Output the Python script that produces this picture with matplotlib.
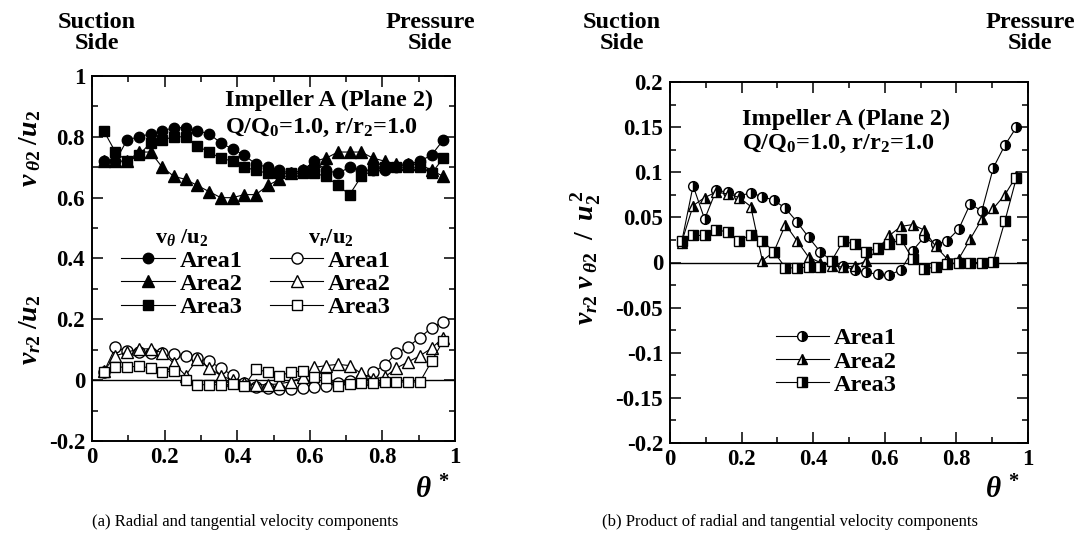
import matplotlib
matplotlib.use("Agg")
import matplotlib.pyplot as plt
from matplotlib.ticker import MultipleLocator, FuncFormatter
from matplotlib.lines import Line2D

plt.rcParams['font.family'] = ['Liberation Serif', 'DejaVu Serif']
plt.rcParams['font.weight'] = 'bold'
plt.rcParams['mathtext.fontset'] = 'custom'
plt.rcParams['mathtext.rm'] = 'Liberation Serif:bold'
plt.rcParams['mathtext.it'] = 'Liberation Serif:bold:italic'
plt.rcParams['mathtext.bf'] = 'Liberation Serif:bold'

# ---------------- data ----------------
theta = [i / 31 for i in range(1, 31)]

vt_area1 = [0.72, 0.72, 0.79, 0.80, 0.81, 0.82, 0.83, 0.83, 0.82, 0.81,
            0.78, 0.76, 0.74, 0.71, 0.70, 0.69, 0.68, 0.69, 0.72, 0.69,
            0.68, 0.70, 0.69, 0.69, 0.69, 0.70, 0.71, 0.72, 0.74, 0.79]
vt_area2 = [0.72, 0.72, 0.72, 0.75, 0.75, 0.70, 0.67, 0.66, 0.64, 0.62,
            0.60, 0.60, 0.61, 0.61, 0.64, 0.66, 0.68, 0.69, 0.72, 0.73,
            0.75, 0.75, 0.75, 0.73, 0.72, 0.71, 0.71, 0.71, 0.69, 0.67]
vt_area3 = [0.82, 0.75, 0.72, 0.74, 0.78, 0.79, 0.80, 0.80, 0.77, 0.75,
            0.73, 0.72, 0.70, 0.69, 0.68, 0.68, 0.68, 0.68, 0.68, 0.67,
            0.64, 0.61, 0.67, 0.69, 0.70, 0.70, 0.70, 0.70, 0.68, 0.73]

vr_area1 = [0.026, 0.108, 0.095, 0.092, 0.090, 0.088, 0.085, 0.080, 0.072, 0.062,
            0.040, 0.016, -0.010, -0.022, -0.026, -0.028, -0.028, -0.025, -0.022, -0.018,
            -0.010, -0.002, 0.005, 0.026, 0.050, 0.088, 0.110, 0.140, 0.172, 0.192]
vr_area2 = [0.030, 0.080, 0.092, 0.103, 0.103, 0.090, 0.055, 0.015, 0.070, 0.040,
            0.015, 0.000, -0.010, -0.015, -0.015, -0.012, -0.005, 0.010, 0.042, 0.048,
            0.052, 0.048, 0.022, 0.005, 0.010, 0.040, 0.060, 0.080, 0.105, 0.140]
vr_area3 = [0.026, 0.043, 0.043, 0.046, 0.040, 0.026, 0.030, 0.002, -0.015, -0.015,
            -0.015, -0.014, -0.020, 0.037, 0.026, 0.015, 0.026, 0.030, 0.010, 0.008,
            -0.018, -0.012, -0.010, -0.008, -0.006, -0.006, -0.006, -0.006, 0.062, 0.130]

pr_area1 = [0.022, 0.085, 0.048, 0.080, 0.078, 0.074, 0.077, 0.073, 0.069, 0.060,
            0.045, 0.028, 0.012, 0.002, -0.004, -0.008, -0.011, -0.013, -0.014, -0.008,
            0.013, 0.028, 0.020, 0.024, 0.037, 0.065, 0.057, 0.105, 0.130, 0.150]
pr_area2 = [0.022, 0.063, 0.072, 0.078, 0.076, 0.072, 0.062, 0.002, 0.012, 0.042,
            0.024, 0.006, 0.000, -0.004, -0.005, -0.004, 0.002, 0.015, 0.030, 0.040,
            0.042, 0.036, 0.018, 0.004, 0.004, 0.026, 0.048, 0.060, 0.075, 0.096]
pr_area3 = [0.024, 0.030, 0.030, 0.036, 0.034, 0.024, 0.031, 0.024, 0.012, -0.006,
            -0.006, -0.005, -0.005, 0.002, 0.024, 0.020, 0.012, 0.016, 0.020, 0.026,
            0.004, -0.007, -0.005, -0.002, 0.000, 0.000, 0.000, 0.001, 0.046, 0.094]

labels = ['Area1', 'Area2', 'Area3']
markers = ['o', '^', 's']

# ---------------- figure ----------------
fig = plt.figure(figsize=(10.86, 5.45), dpi=100)
axL = fig.add_axes([92 / 1086, 1 - 441 / 545, 363 / 1086, 365 / 545])
axR = fig.add_axes([670 / 1086, 1 - 443 / 545, 358 / 1086, 361 / 545])

TICKFS = 16.5
ANNFS = 17.5
LEGFS = 17.5


def style_axes(ax):
    for s in ax.spines.values():
        s.set_linewidth(1.4)
    ax.tick_params(which='both', direction='in', top=True, right=True,
                   labelsize=TICKFS, width=1.1)
    ax.tick_params(which='major', length=8)
    ax.tick_params(which='minor', length=4)
    ax.tick_params(axis='y', pad=5)
    ax.tick_params(axis='x', pad=4)
    ax.axhline(0, color='black', lw=1.0, zorder=1)
    ax.yaxis.set_major_formatter(FuncFormatter(lambda v, p: '%g' % round(v, 3)))
    ax.xaxis.set_major_formatter(FuncFormatter(lambda v, p: '%g' % round(v, 3)))


# ----- left panel -----
vt_series = [vt_area1, vt_area2, vt_area3]
vr_series = [vr_area1, vr_area2, vr_area3]
ms_f = [7.5, 8, 7]
for vals, m, ms in zip(vr_series, markers, ms_f):
    axL.plot(theta, vals, color='black', lw=0.8, marker=m, ms=ms + 0.5,
             mfc='white', mec='black', mew=1.0, zorder=3)
for vals, m, ms in zip(vt_series, markers, ms_f):
    axL.plot(theta, vals, color='black', lw=0.8, marker=m, ms=ms,
             mfc='black', mec='black', zorder=4)

axL.set_xlim(0, 1)
axL.set_ylim(-0.2, 1.0)
axL.xaxis.set_major_locator(MultipleLocator(0.2))
axL.xaxis.set_minor_locator(MultipleLocator(0.1))
axL.yaxis.set_major_locator(MultipleLocator(0.2))
axL.yaxis.set_minor_locator(MultipleLocator(0.1))
style_axes(axL)

axL.text(0.366, 1 - (100 - 76) / 365, 'Impeller A (Plane 2)', transform=axL.transAxes,
         ha='left', va='center', fontsize=ANNFS)
axL.text(0.366, 1 - (128 - 76) / 365, 'Q/Q$_0$=1.0, r/r$_2$=1.0', transform=axL.transAxes,
         ha='left', va='center', fontsize=ANNFS)

h_f = [Line2D([], [], color='black', lw=0.8, marker=m, ms=ms, mfc='black', mec='black')
       for m, ms in zip(markers, ms_f)]
h_o = [Line2D([], [], color='black', lw=0.8, marker=m, ms=ms + 0.5, mfc='white', mec='black')
       for m, ms in zip(markers, ms_f)]
legkw = dict(frameon=False, fontsize=LEGFS, handlelength=2.2, handletextpad=0.2,
             labelspacing=0.05, borderpad=0, borderaxespad=0, title_fontsize=16)
leg1 = axL.legend(h_f, labels, loc='upper left', bbox_to_anchor=(0.08, 0.585),
                  title='v$_\\theta$ /u$_2$', **legkw)
axL.add_artist(leg1)
leg2 = axL.legend(h_o, labels, loc='upper left', bbox_to_anchor=(0.49, 0.585),
                  title='v$_r$/u$_2$', **legkw)

fig.text(30 / 1086, 1 - 148 / 545, '$v_{\\;\\theta 2}\\;/u_2$', rotation=90,
         ha='center', va='center', fontsize=20)
fig.text(30 / 1086, 1 - 330 / 545, '$v_{r2}\\;/u_2$', rotation=90,
         ha='center', va='center', fontsize=20)
fig.text(432 / 1086, 1 - 490 / 545, '$\\theta^{\\,*}$', ha='center', va='center',
         fontsize=21)

# ----- right panel -----
pr_series = [pr_area1, pr_area2, pr_area3]
h_r = []
for vals, m, lab in zip(pr_series, markers, labels):
    ln, = axR.plot(theta, vals, color='black', lw=0.8, marker=m, ms=7,
                   mfc='black', mfcalt='white', fillstyle='right', mec='black',
                   mew=1.0, label=lab, zorder=3)
    h_r.append(ln)
axR.set_xlim(0, 1)
axR.set_ylim(-0.2, 0.2)
axR.xaxis.set_major_locator(MultipleLocator(0.2))
axR.xaxis.set_minor_locator(MultipleLocator(0.1))
axR.yaxis.set_major_locator(MultipleLocator(0.05))
axR.yaxis.set_minor_locator(MultipleLocator(0.025))
style_axes(axR)

axR.text(0.20, 1 - (119 - 82) / 361, 'Impeller A (Plane 2)', transform=axR.transAxes,
         ha='left', va='center', fontsize=ANNFS)
axR.text(0.20, 1 - (144 - 82) / 361, 'Q/Q$_0$=1.0, r/r$_2$=1.0', transform=axR.transAxes,
         ha='left', va='center', fontsize=ANNFS)
axR.legend(h_r, labels, loc='upper left', bbox_to_anchor=(0.295, 0.32),
           frameon=False, fontsize=LEGFS, handlelength=2.2, handletextpad=0.2,
           labelspacing=0.05, borderpad=0, borderaxespad=0)

fig.text(586 / 1086, 1 - 258 / 545,
         '$v_{r2}\\;v_{\\;\\theta 2}\\;\\;/\\;\\;u_2^{\\,2}$',
         rotation=90, ha='center', va='center', fontsize=20)
fig.text(1002 / 1086, 1 - 490 / 545, '$\\theta^{\\,*}$', ha='center', va='center',
         fontsize=21)

# ----- side labels -----
for x, txt in [(97, 'Suction\nSide'), (430, 'Pressure\nSide'),
               (622, 'Suction\nSide'), (1030, 'Pressure\nSide')]:
    fig.text(x / 1086, 1 - 33 / 545, txt, ha='center', va='center',
             fontsize=17.5, linespacing=1.0)

# ----- captions -----
fig.text(245 / 1086, 1 - 522 / 545, '(a) Radial and tangential velocity components',
         ha='center', va='center', fontsize=12, fontweight='normal')
fig.text(790 / 1086, 1 - 522 / 545,
         '(b) Product of radial and tangential velocity components',
         ha='center', va='center', fontsize=12, fontweight='normal')

fig.savefig('out.png', dpi=100)
